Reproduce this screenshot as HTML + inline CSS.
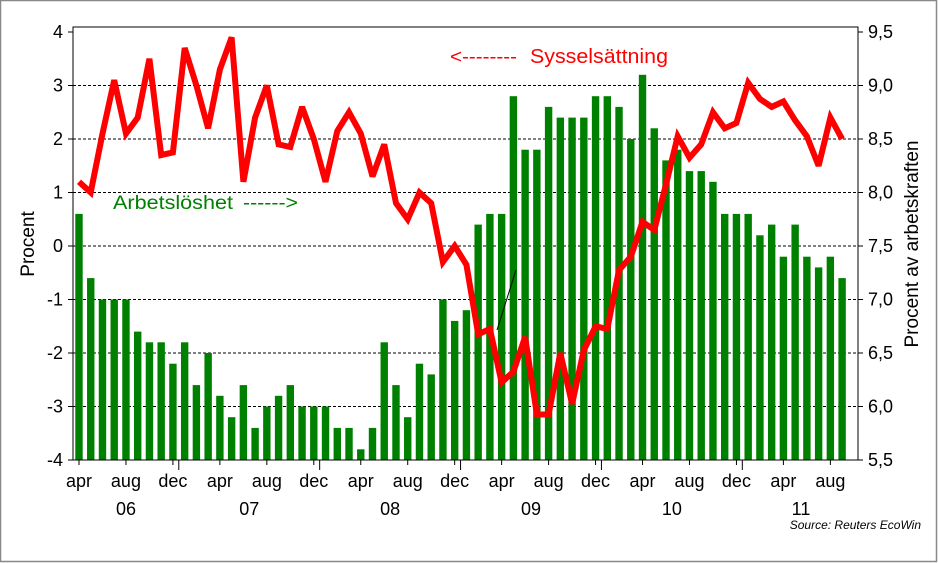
<!DOCTYPE html>
<html><head><meta charset="utf-8"><style>
html,body{margin:0;padding:0;background:#fff;}
svg{display:block;font-family:"Liberation Sans",Arial,sans-serif;}
</style></head><body>
<svg id="chart" width="938" height="563" viewBox="0 0 938 563" xmlns="http://www.w3.org/2000/svg">
<rect x="0.5" y="0.5" width="936" height="561" fill="#fff" stroke="#888" stroke-width="1.5"/>
<g id="grid"></g>
<g id="bars"></g>
<g id="line"></g>
<g id="axes"></g>
<line x1="497" y1="330" x2="516" y2="270" stroke="#000" stroke-width="1"/>
<text x="450" y="63" font-size="19" fill="#ff0000" textLength="67" lengthAdjust="spacingAndGlyphs">&lt;--------</text>
<text x="530" y="63" font-size="20" fill="#ff0000" textLength="138" lengthAdjust="spacingAndGlyphs">Sysselsättning</text>
<text x="113" y="209" font-size="19" fill="#008000" textLength="120" lengthAdjust="spacingAndGlyphs">Arbetslöshet</text>
<text x="243" y="209" font-size="19" fill="#008000" textLength="55" lengthAdjust="spacingAndGlyphs">------&gt;</text>
<text transform="translate(34,244) rotate(-90)" text-anchor="middle" font-size="19" fill="#000">Procent</text>
<text transform="translate(918,244) rotate(-90)" text-anchor="middle" font-size="19" fill="#000">Procent av arbetskraften</text>
<text x="921" y="529" text-anchor="end" font-size="12" font-style="italic" fill="#000">Source: Reuters EcoWin</text>
</svg>
<script>
// Unemployment (% of labour force), monthly apr 2006 .. sep 2011
const unemployment = [7.8,7.2,7.0,7.0,7.0,6.7,6.6,6.6,6.4,6.6,6.2,6.5,6.1,5.9,6.2,5.8,6.0,6.1,6.2,6.0,6.0,6.0,5.8,5.8,5.6,5.8,6.6,6.2,5.9,6.4,6.3,7.0,6.8,6.9,7.7,7.8,7.8,8.9,8.4,8.4,8.8,8.7,8.7,8.7,8.9,8.9,8.8,8.5,9.1,8.6,8.3,8.4,8.2,8.2,8.1,7.8,7.8,7.8,7.6,7.7,7.4,7.7,7.4,7.3,7.4,7.2];
// Employment change (%), same months
const employment = [1.2,1.0,2.1,3.1,2.1,2.4,3.5,1.7,1.75,3.7,3.0,2.2,3.3,3.9,1.2,2.4,3.0,1.9,1.85,2.6,2.0,1.2,2.15,2.5,2.1,1.3,1.9,0.8,0.5,1.0,0.8,-0.3,0.0,-0.35,-1.65,-1.55,-2.55,-2.35,-1.7,-3.15,-3.15,-2.0,-2.95,-1.95,-1.5,-1.55,-0.45,-0.2,0.45,0.3,1.15,2.05,1.65,1.9,2.5,2.2,2.3,3.05,2.75,2.6,2.7,2.35,2.05,1.5,2.4,2.0];
const leftTicks = ["4","3","2","1","0","-1","-2","-3","-4"];
const rightTicks = ["9,5","9,0","8,5","8,0","7,5","7,0","6,5","6,0","5,5"];
const monthLabels = ["apr","aug","dec","apr","aug","dec","apr","aug","dec","apr","aug","dec","apr","aug","dec","apr","aug"];
const yearLabels = ["06","07","08","09","10","11"];
const yearCenters = [4,14.5,26.5,38.5,50.5,61.5];

const NS="http://www.w3.org/2000/svg";
const X0=73, X1=858, Y0=32, Y1=460;
const xAt = i => 79 + i*11.74;
const yL = v => Y0 + (4 - v)/8*(Y1-Y0);
const yR = v => Y0 + (9.5 - v)/4*(Y1-Y0);
function mk(tag, attrs, parent){const e=document.createElementNS(NS,tag);for(const k in attrs)e.setAttribute(k,attrs[k]);parent.appendChild(e);return e;}
const grid=document.getElementById('grid'), bars=document.getElementById('bars'), line=document.getElementById('line'), axes=document.getElementById('axes');

leftTicks.forEach((t,k)=>{
  const v=parseFloat(t), y=yL(v);
  if(v<4 && v>-4){const g=mk('line',{x1:X0,x2:X1,y1:y,y2:y,stroke:'#000','stroke-width':1,'stroke-dasharray':'3,2'},grid);
    
    }
  const tl=mk('text',{x:X0-10,y:y+6,'text-anchor':'end','font-size':18},axes); tl.textContent=t;
  
  
  mk('line',{x1:X0-5,x2:X0,y1:y,y2:y,stroke:'#000'},axes);
});
rightTicks.forEach((t,k)=>{
  const v=parseFloat(t.replace(',','.')), y=yR(v);
  const tl=mk('text',{x:X1+10,y:y+6,'font-size':18},axes); tl.textContent=t;
  
  
  mk('line',{x1:X1,x2:X1+5,y1:y,y2:y,stroke:'#000'},axes);
});
unemployment.forEach((v,i)=>{
  const y=yR(v);
  const b=mk('rect',{x:xAt(i)-3.7,y:y,width:7.4,height:Y1-y,fill:'#008000'},bars);
  
  
});
const pl=mk('polyline',{points:employment.map((v,i)=>xAt(i).toFixed(1)+','+yL(v).toFixed(1)).join(' '),fill:'none',stroke:'#ff0000','stroke-width':6,'stroke-linejoin':'miter','stroke-miterlimit':3},line);


const frame=mk('rect',{x:X0,y:27,width:X1-X0,height:Y1-27,fill:'none',stroke:'#000','stroke-width':1},axes);


monthLabels.forEach((m,k)=>{
  const x=xAt(k*4);
  mk('line',{x1:x,x2:x,y1:Y1,y2:Y1+5,stroke:'#000'},axes);
  const t=mk('text',{x:x,y:Y1+27,'text-anchor':'middle','font-size':18},axes); t.textContent=m;
  
  
});
for(let i=9;i<66;i+=12){const x=xAt(i)-5.87;mk('line',{x1:x,x2:x,y1:Y1,y2:Y1+10,stroke:'#000'},axes);}
yearLabels.forEach((yl,k)=>{
  const t=mk('text',{x:xAt(yearCenters[k]),y:Y1+55,'text-anchor':'middle','font-size':18},axes); t.textContent=yl;
  
  
});
</script>
</body></html>
